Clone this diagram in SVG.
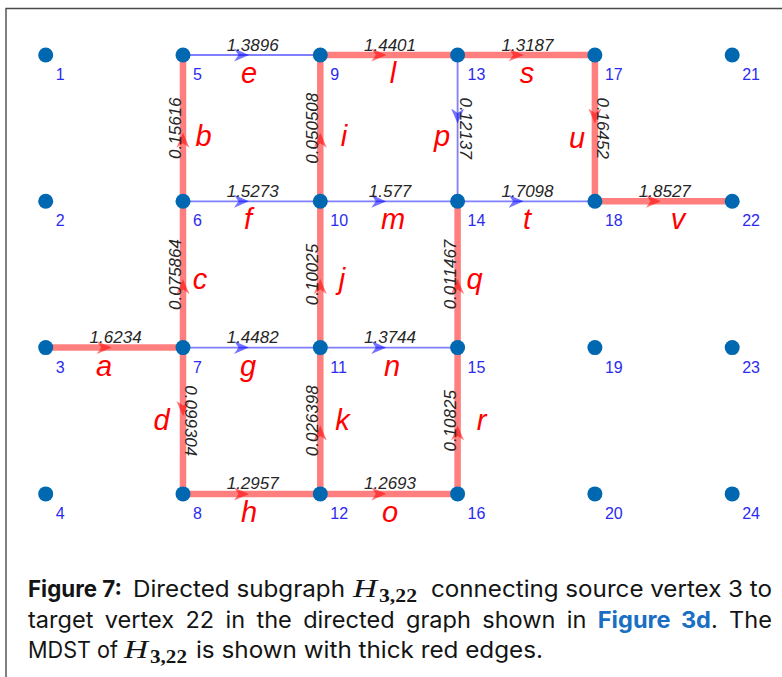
<svg xmlns="http://www.w3.org/2000/svg" width="782" height="677" viewBox="0 0 782 677">
  <defs>
    <style>
      .thick { fill:none; stroke:#ff0000; stroke-opacity:0.5; stroke-width:6.5; marker-mid:url(#arR); }
      .thin { fill:none; stroke:#0000ff; stroke-opacity:0.5; stroke-width:1.8; marker-mid:url(#arB); }
      .w { font-family:"Liberation Sans",Arial,sans-serif; font-style:italic; font-size:17px; fill:#262626; text-anchor:middle; }
      .lab { font-family:"Liberation Sans",Arial,sans-serif; font-style:italic; font-size:29px; fill:#ff0000; text-anchor:middle; }
      .node circle { fill:#0068b0; }
      .node text { font-family:"Liberation Sans",Arial,sans-serif; font-size:16px; fill:#2b2bf0; }
      .cap { font-family:Inter,"Liberation Sans",sans-serif; font-size:22.5px; fill:#141414; }
      .capb { font-weight:bold; }
      .link { fill:#1a6fc4; font-weight:bold; }
      .math { font-family:"Liberation Serif","Times New Roman",serif; font-style:italic; font-size:25px; fill:#141414; }
      .sub { font-family:"Liberation Serif","Times New Roman",serif; font-weight:bold; font-size:19px; fill:#141414; }
    </style>
    <marker id="arR" markerUnits="userSpaceOnUse" viewBox="0 0 15 14" markerWidth="15" markerHeight="14" refX="15" refY="7" orient="auto">
      <path d="M15,7 L0,0.5 L4.5,7 L0,13.5 Z" fill="#ff0000" fill-opacity="0.55"/>
    </marker>
    <marker id="arB" markerUnits="userSpaceOnUse" viewBox="0 0 15 14" markerWidth="15" markerHeight="14" refX="15" refY="7" orient="auto">
      <path d="M15,7 L0,0.5 L4.5,7 L0,13.5 Z" fill="#0000ff" fill-opacity="0.55"/>
    </marker>
  </defs>

  <rect width="782" height="677" fill="#ffffff"/>
  <!-- frame -->
  <path d="M6,677 V8.5 H782" fill="none" stroke="#4a4a4a" stroke-width="1.4"/>

  <!-- edges: each path has a middle vertex where the arrowhead sits -->
  <g id="connectors">
    <g id="edge-a"><path class="thick" d="M45.7,347.6 L111.7,347.6 L183,347.6"/><text class="w" x="115.6" y="343.1">1.6234</text><text class="lab" x="104" y="375.5">a</text></g>
    <g id="edge-b"><path class="thick" d="M183,201.3 L183,132.8 L183,55"/><text class="w" x="181" y="128.2" transform="rotate(-90 181 128.2)">0.15616</text><text class="lab" x="203.5" y="146">b</text></g>
    <g id="edge-c"><path class="thick" d="M183,347.6 L183,279.1 L183,201.3"/><text class="w" x="181" y="274.5" transform="rotate(-90 181 274.5)">0.075864</text><text class="lab" x="200" y="289">c</text></g>
    <g id="edge-d"><path class="thick" d="M183,347.6 L183,416.1 L183,493.9"/><text class="w" x="185" y="420.8" transform="rotate(90 185 420.8)">0.099304</text><text class="lab" x="161.5" y="430">d</text></g>
    <g id="edge-e"><path class="thin" d="M183,55 L249,55 L320.3,55"/><text class="w" x="252.7" y="50.5">1.3896</text><text class="lab" x="249" y="82.5">e</text></g>
    <g id="edge-f"><path class="thin" d="M183,201.3 L249,201.3 L320.3,201.3"/><text class="w" x="252.7" y="196.8">1.5273</text><text class="lab" x="248" y="228.5">f</text></g>
    <g id="edge-g"><path class="thin" d="M183,347.6 L249,347.6 L320.3,347.6"/><text class="w" x="252.7" y="343.1">1.4482</text><text class="lab" x="248" y="375.5">g</text></g>
    <g id="edge-h"><path class="thick" d="M183,493.9 L249,493.9 L320.3,493.9"/><text class="w" x="252.7" y="489.4">1.2957</text><text class="lab" x="249" y="522">h</text></g>
    <g id="edge-i"><path class="thick" d="M320.3,201.3 L320.3,132.8 L320.3,55"/><text class="w" x="318.3" y="128.2" transform="rotate(-90 318.3 128.2)">0.050508</text><text class="lab" x="344" y="146">i</text></g>
    <g id="edge-j"><path class="thick" d="M320.3,347.6 L320.3,279.1 L320.3,201.3"/><text class="w" x="318.3" y="274.5" transform="rotate(-90 318.3 274.5)">0.10025</text><text class="lab" x="342" y="289">j</text></g>
    <g id="edge-k"><path class="thick" d="M320.3,493.9 L320.3,425.4 L320.3,347.6"/><text class="w" x="318.3" y="420.8" transform="rotate(-90 318.3 420.8)">0.026398</text><text class="lab" x="342.5" y="430">k</text></g>
    <g id="edge-l"><path class="thick" d="M320.3,55 L386.3,55 L457.6,55"/><text class="w" x="390" y="50.5">1.4401</text><text class="lab" x="393" y="82.5">l</text></g>
    <g id="edge-m"><path class="thin" d="M320.3,201.3 L386.3,201.3 L457.6,201.3"/><text class="w" x="390" y="196.8">1.577</text><text class="lab" x="393" y="228.5">m</text></g>
    <g id="edge-n"><path class="thin" d="M320.3,347.6 L386.3,347.6 L457.6,347.6"/><text class="w" x="390" y="343.1">1.3744</text><text class="lab" x="392" y="375.5">n</text></g>
    <g id="edge-o"><path class="thick" d="M320.3,493.9 L386.3,493.9 L457.6,493.9"/><text class="w" x="390" y="489.4">1.2693</text><text class="lab" x="390" y="522">o</text></g>
    <g id="edge-p"><path class="thin" d="M457.6,55 L457.6,123.5 L457.6,201.3"/><text class="w" x="459.6" y="128.2" transform="rotate(90 459.6 128.2)">0.12137</text><text class="lab" x="442" y="146">p</text></g>
    <g id="edge-q"><path class="thick" d="M457.6,347.6 L457.6,279.1 L457.6,201.3"/><text class="w" x="455.6" y="274.5" transform="rotate(-90 455.6 274.5)">0.011467</text><text class="lab" x="474.5" y="289">q</text></g>
    <g id="edge-r"><path class="thick" d="M457.6,493.9 L457.6,425.4 L457.6,347.6"/><text class="w" x="455.6" y="420.8" transform="rotate(-90 455.6 420.8)">0.10825</text><text class="lab" x="481.5" y="430">r</text></g>
    <g id="edge-s"><path class="thick" d="M457.6,55 L523.6,55 L594.9,55"/><text class="w" x="527.5" y="50.5">1.3187</text><text class="lab" x="527" y="82.5">s</text></g>
    <g id="edge-t"><path class="thin" d="M457.6,201.3 L523.6,201.3 L594.9,201.3"/><text class="w" x="527.5" y="196.8">1.7098</text><text class="lab" x="527" y="228.5">t</text></g>
    <g id="edge-u"><path class="thick" d="M594.9,55 L594.9,123.5 L594.9,201.3"/><text class="w" x="597.4" y="128.2" transform="rotate(90 597.4 128.2)">0.16452</text><text class="lab" x="577" y="148">u</text></g>
    <g id="edge-v"><path class="thick" d="M594.9,201.3 L660.9,201.3 L732.2,201.3"/><text class="w" x="664.8" y="196.8">1.8527</text><text class="lab" x="678" y="228.5">v</text></g>
  </g>

  <!-- vertices, numbered column by column -->
  <g id="v1" class="node"><circle cx="45.7" cy="55" r="7.5"/><text x="55.7" y="80">1</text></g>
  <g id="v2" class="node"><circle cx="45.7" cy="201.3" r="7.5"/><text x="55.7" y="226.3">2</text></g>
  <g id="v3" class="node"><circle cx="45.7" cy="347.6" r="7.5"/><text x="55.7" y="372.6">3</text></g>
  <g id="v4" class="node"><circle cx="45.7" cy="493.9" r="7.5"/><text x="55.7" y="518.9">4</text></g>
  <g id="v5" class="node"><circle cx="183" cy="55" r="7.5"/><text x="193" y="80">5</text></g>
  <g id="v6" class="node"><circle cx="183" cy="201.3" r="7.5"/><text x="193" y="226.3">6</text></g>
  <g id="v7" class="node"><circle cx="183" cy="347.6" r="7.5"/><text x="193" y="372.6">7</text></g>
  <g id="v8" class="node"><circle cx="183" cy="493.9" r="7.5"/><text x="193" y="518.9">8</text></g>
  <g id="v9" class="node"><circle cx="320.3" cy="55" r="7.5"/><text x="330.3" y="80">9</text></g>
  <g id="v10" class="node"><circle cx="320.3" cy="201.3" r="7.5"/><text x="330.3" y="226.3">10</text></g>
  <g id="v11" class="node"><circle cx="320.3" cy="347.6" r="7.5"/><text x="330.3" y="372.6">11</text></g>
  <g id="v12" class="node"><circle cx="320.3" cy="493.9" r="7.5"/><text x="330.3" y="518.9">12</text></g>
  <g id="v13" class="node"><circle cx="457.6" cy="55" r="7.5"/><text x="467.6" y="80">13</text></g>
  <g id="v14" class="node"><circle cx="457.6" cy="201.3" r="7.5"/><text x="467.6" y="226.3">14</text></g>
  <g id="v15" class="node"><circle cx="457.6" cy="347.6" r="7.5"/><text x="467.6" y="372.6">15</text></g>
  <g id="v16" class="node"><circle cx="457.6" cy="493.9" r="7.5"/><text x="467.6" y="518.9">16</text></g>
  <g id="v17" class="node"><circle cx="594.9" cy="55" r="7.5"/><text x="604.9" y="80">17</text></g>
  <g id="v18" class="node"><circle cx="594.9" cy="201.3" r="7.5"/><text x="604.9" y="226.3">18</text></g>
  <g id="v19" class="node"><circle cx="594.9" cy="347.6" r="7.5"/><text x="604.9" y="372.6">19</text></g>
  <g id="v20" class="node"><circle cx="594.9" cy="493.9" r="7.5"/><text x="604.9" y="518.9">20</text></g>
  <g id="v21" class="node"><circle cx="732.2" cy="55" r="7.5"/><text x="742.2" y="80">21</text></g>
  <g id="v22" class="node"><circle cx="732.2" cy="201.3" r="7.5"/><text x="742.2" y="226.3">22</text></g>
  <g id="v23" class="node"><circle cx="732.2" cy="347.6" r="7.5"/><text x="742.2" y="372.6">23</text></g>
  <g id="v24" class="node"><circle cx="732.2" cy="493.9" r="7.5"/><text x="742.2" y="518.9">24</text></g>

  <!-- caption: two justified lines and a last line -->
  <g id="caption">
    <text class="cap capb" x="28" y="597" textLength="94" lengthAdjust="spacingAndGlyphs">Figure 7:</text>
    <text class="cap" x="133" y="597" textLength="212" lengthAdjust="spacingAndGlyphs">Directed subgraph</text>
    <text class="math" x="353" y="597" textLength="24" lengthAdjust="spacingAndGlyphs">H</text>
    <text class="sub" x="379" y="601.5" textLength="38" lengthAdjust="spacingAndGlyphs">3,22</text>
    <text class="cap" x="431" y="597" textLength="341" lengthAdjust="spacingAndGlyphs">connecting source vertex 3 to</text>

    <text class="cap" x="28" y="627.5" word-spacing="4.5" textLength="744" lengthAdjust="spacingAndGlyphs">target vertex 22 in the directed graph shown in <tspan class="link">Figure 3d</tspan>. The</text>

    <text class="cap" x="28" y="658" textLength="90" lengthAdjust="spacingAndGlyphs">MDST of</text>
    <text class="math" x="124" y="658" textLength="24" lengthAdjust="spacingAndGlyphs">H</text>
    <text class="sub" x="150" y="663" textLength="37" lengthAdjust="spacingAndGlyphs">3,22</text>
    <text class="cap" x="196" y="658" textLength="347" lengthAdjust="spacingAndGlyphs">is shown with thick red edges.</text>
  </g>
</svg>
